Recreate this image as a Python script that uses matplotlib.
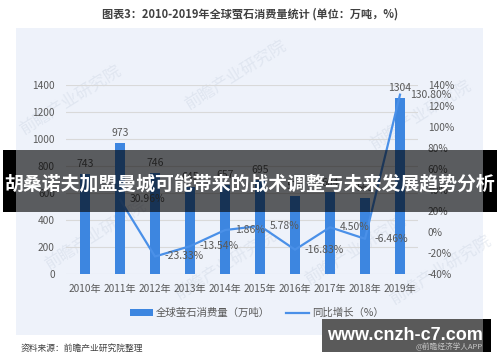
import matplotlib.pyplot as plt
from matplotlib.patches import Rectangle
from matplotlib.lines import Line2D

plt.rcParams['font.family'] = ['Noto Sans CJK SC', 'DejaVu Sans']

years = ['2010年', '2011年', '2012年', '2013年', '2014年',
         '2015年', '2016年', '2017年', '2018年', '2019年']
consumption = [743, 973, 746, 645, 657, 695, 578, 604, 565, 1304]
growth = [None, 30.96, -23.33, -13.54, 1.86, 5.78, -16.83, 4.50, -6.46, 130.80]

bar_color = '#3D86E0'
line_color = '#4A90E8'
txt_gray = '#595959'

fig = plt.figure(figsize=(5, 3.62), dpi=100)
W, H = 500, 362

def fx(px):
    return px / W

def fy(py):
    return 1 - py / H

# light panel behind the chart
fig.patches.append(Rectangle((fx(16), fy(335)), fx(467), 307 / H,
                             transform=fig.transFigure, facecolor='#EEF2FA',
                             edgecolor='none', zorder=-5))

# faint watermarks
for (wx, wy) in [(70, 100), (235, 75), (420, 115), (95, 235), (225, 265), (355, 250), (440, 270)]:
    fig.text(fx(wx), fy(wy), '前瞻产业研究院', rotation=32, fontsize=12,
             color='#C5CFDE', alpha=0.35, ha='center', va='center', zorder=-4)

ax = fig.add_axes([fx(66), fy(274), fx(352), 189 / H])
ax.set_facecolor('none')
x = list(range(len(years)))
bars = ax.bar(x, consumption, width=0.31, color=bar_color, zorder=3)
ax.set_xlim(-0.543, 9.514)
ax.set_ylim(0, 1400)
ax.set_yticks(range(0, 1401, 200))
ax.grid(axis='y', color='#D9D9D9', linewidth=0.8, zorder=0)
ax.set_xticks(x)
ax.set_xticklabels(years)
for s in ax.spines.values():
    s.set_visible(False)
ax.tick_params(axis='both', length=0, labelsize=7.3, colors=txt_gray)
ax.tick_params(axis='y', pad=8)
ax.tick_params(axis='x', pad=7)
for xi, v in zip(x, consumption):
    ax.annotate(str(v), (xi, v), xytext=(0, 3.5), textcoords='offset points',
                ha='center', va='bottom', fontsize=7.5, color=txt_gray, zorder=5)

ax2 = ax.twinx()
ax2.set_ylim(-40, 140)
ax2.set_yticks(range(-40, 141, 20))
ax2.set_yticklabels([f'{t}%' for t in range(-40, 141, 20)])
for s in ax2.spines.values():
    s.set_visible(False)
ax2.tick_params(axis='y', length=0, labelsize=7.3, colors=txt_gray, pad=7)
gx = x[1:]
gy = growth[1:]
ax2.plot(gx, gy, color=line_color, linewidth=1.6, zorder=4)
for xi, v in zip(gx, gy):
    ax2.annotate(f'{v:.2f}%', (xi, v), xytext=(7, 0), textcoords='offset points',
                 ha='left', va='center', fontsize=7.5, color=txt_gray, zorder=5)

handles = [Rectangle((0, 0), 1, 1, facecolor=bar_color, edgecolor='none'),
           Line2D([0], [0], color=line_color, linewidth=1.6)]
fig.legend(handles, ['全球萤石消费量（万吨）', '同比增长（%）'], loc='center',
           bbox_to_anchor=(fx(257), fy(313)), ncol=2, frameon=False,
           fontsize=7.5, labelcolor=txt_gray, handlelength=2.2, handleheight=0.55,
           columnspacing=1.5, handletextpad=0.3)

fig.text(0.5, fy(14), '图表3：2010-2019年全球萤石消费量统计 (单位：万吨，%)',
         ha='center', va='center', fontsize=8, fontweight='bold', color='#404040')
fig.text(fx(21), fy(348), '资料来源：前瞻产业研究院整理', ha='left', va='center',
         fontsize=6.3, color='#404040')

# overlay banner
fig.patches.append(Rectangle((fx(3), fy(212)), fx(494), 62 / H, transform=fig.transFigure,
                             facecolor='black', alpha=0.62, edgecolor='none', zorder=10))
for ex in [(3, 13), (483, 14)]:
    fig.patches.append(Rectangle((fx(ex[0]), fy(212)), fx(ex[1]), 62 / H,
                                 transform=fig.transFigure, facecolor='black',
                                 edgecolor='none', zorder=10))
fig.text(0.5, fy(184), '胡桑诺夫加盟曼城可能带来的战术调整与未来发展趋势分析',
         ha='center', va='center', fontsize=13.6, fontweight='bold', color='white', zorder=11)

# site box bottom right
fig.patches.append(Rectangle((fx(322), fy(352)), fx(169), 33 / H, transform=fig.transFigure,
                             facecolor='#5A5A5A', edgecolor='none', zorder=10))
fig.patches.append(Rectangle((fx(483), fy(352)), fx(8), 33 / H, transform=fig.transFigure,
                             facecolor='black', edgecolor='none', zorder=10))
fig.text(fx(405), fy(336), 'www.cnzh-c7.com', ha='center', va='center', fontsize=13,
         fontweight='bold', color='white', zorder=11, family=['Liberation Sans'])
fig.text(fx(483), fy(347), '@前瞻经济学人APP', ha='right', va='center', fontsize=5.5,
         color='#C8C8C8', zorder=11)

fig.savefig('out.png', dpi=100)
